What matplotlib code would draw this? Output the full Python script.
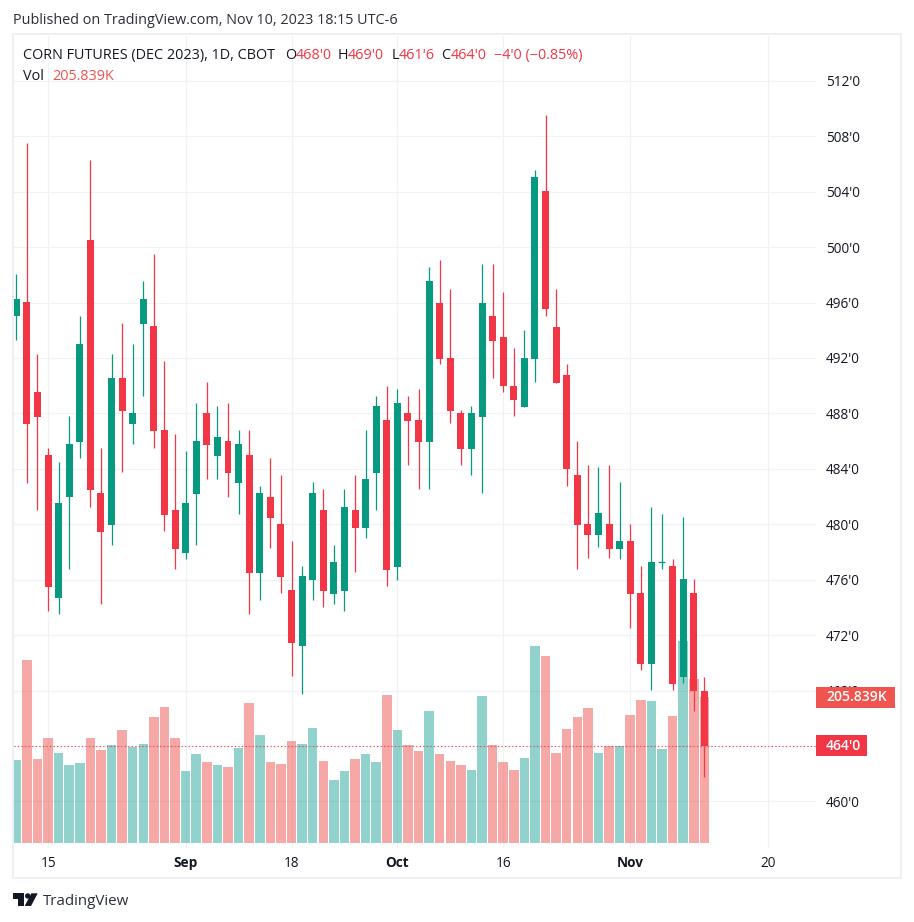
import matplotlib
matplotlib.use("Agg")
import matplotlib.pyplot as plt
from matplotlib.patches import Rectangle, Polygon, Circle
from matplotlib.transforms import IdentityTransform

opens = [495.0,496.05,489.55,485.0,474.7,482,485.9,500.5,482.25,479.95,490.55,487.25,494.45,494.3,486.8,481,477.9,482.2,488,484.9,486,483,485,476.5,482,480,475.25,471.25,476,481,475,475.2,481,479.75,483.7,487.5,476.9,488,487.5,485.9,496,492,488,485.4,487.75,495,493.5,490,488.45,491.95,504.05,494.25,490.75,483.55,480.05,479.25,480.05,478.25,478.8,475.05,469.95,477.25,477,469,475.05,468]
highs = [498.05,507.5,492.25,485.5,484.5,487.8,495,506.3,485.5,492.25,494.5,493,497.55,499.5,491.75,486.5,485.3,488.75,490.25,488.5,488.75,486.8,486.8,482.75,484.75,483.55,478.8,477,483.05,482.55,478.5,482.55,483.55,486.8,489.25,490,489.75,489.25,489.75,498.55,499.05,497,488.25,488.5,498.75,498.75,496.75,492.75,494,505.55,509.55,497,491.55,486,484.3,484.1,484.3,483.05,480,477,481.25,480.75,477.5,480.5,476.05,469]
lows = [493.3,483.0,481.0,473.75,473.5,476.8,484.75,481.25,474.25,478.5,483.75,485.8,489.25,485.5,479.5,476.8,477.5,478.5,483.25,483.25,482,480.75,473.5,474.5,478.3,475.05,469.05,467.75,474.55,474.05,474.25,473.75,476.55,479,481,475.55,476,484.25,482.55,482.55,491.55,487.3,484.25,483.55,482.25,490.55,489.55,487.8,488.45,490.3,495,490.2,482.75,476.8,477.55,478.35,477.55,477.5,472.5,469.5,468.05,476.8,468.05,468.55,466.55,461.75]
closes = [496.25,487.25,487.75,475.45,481.5,485.8,493,482.5,479.45,490.55,488.15,488,496.25,486.7,480.65,478.2,481.5,486,485.7,486.3,483.7,485.8,476.5,482.25,480.45,476.2,471.45,476.25,482.25,475.2,477.3,481.25,479.75,483.25,488.5,476.7,488.75,487.45,485.9,497.55,491.9,488.15,485.4,488,496,493.2,490,489,492,505.05,495.5,490.2,484,479.95,479.25,480.8,478.25,478.8,475,469.95,477.3,477.25,468.5,476.05,468,464]
volumes = [116.8,258.1,118.2,147.9,126.7,109.7,112.6,147.9,130.9,138.0,159.2,135.2,139.4,177.6,191.7,147.9,101.3,125.3,114.0,109.7,106.9,133.8,197.3,152.1,114.0,111.2,143.7,139.4,162.0,115.4,88.5,101.3,118.2,125.3,114.0,208.7,159.2,138.0,129.5,186.0,125.3,115.4,109.7,102.7,207.2,138.0,114.0,102.7,119.6,277.9,263.8,126.7,160.6,177.6,190.3,126.7,136.6,136.6,180.4,201.6,200.2,132.4,179.0,285.0,231.3,205.839]
price_ticks = [460,464,468,472,476,480,484,488,492,496,500,504,508,512]
date_positions = [3,16,26,36,46,58,71]
date_labels = ["15","Sep","18","Oct","16","Nov","20"]
bold_dates = ["Sep","Oct","Nov"]

W, H = 914, 922
UP, DOWN = "#089981", "#F23645"
VUP, VDOWN = "#26a69a", "#ef5350"
GRID = "#f0f2f6"
FRAME = "#eeeff5"
TEXT = "#131722"
FONT = "Open Sans"
FS = 9.8
FS_HEAD = 10.4
plt.rcParams["font.family"] = [FONT, "DejaVu Sans"]

fig = plt.figure(figsize=(W/100, H/100), dpi=100, facecolor="white")
L, R, T, B = 13.5, 816, 36, 848
rect = [L/W, 1-B/H, (R-L)/W, (B-T)/H]
xl = (-0.2645, 75.55)

ax_grid = fig.add_axes(rect, zorder=1)
ax_vol = fig.add_axes(rect, zorder=2, facecolor="none")
ax = fig.add_axes(rect, zorder=3, facecolor="none")

for a in (ax_grid, ax_vol, ax):
    a.set_xlim(*xl)
    for s in a.spines.values():
        s.set_visible(False)

ylim = (456.64, 515.23)
ax_grid.set_ylim(*ylim)
ax.set_ylim(*ylim)
ax_vol.set_ylim(-7.07, 1140)
ax_vol.set_xticks([]); ax_vol.set_yticks([])
ax.set_xticks([]); ax.set_yticks([])

ax_grid.yaxis.tick_right()
ax_grid.set_yticks(price_ticks)
# the last-price tag sits exactly on the 464 tick, so that label never shows
ax_grid.set_yticklabels(["" if v == closes[-1] else f"{v}'0" for v in price_ticks],
                        fontsize=FS, color=TEXT)
ax_grid.set_xticks(date_positions)
ax_grid.set_xticklabels(date_labels, fontsize=FS, color=TEXT)
for lab in ax_grid.get_xticklabels():
    if lab.get_text() in bold_dates:
        lab.set_fontweight("bold")
ax_grid.tick_params(axis="both", length=0)
ax_grid.tick_params(axis="y", pad=7)
ax_grid.tick_params(axis="x", pad=6)
ax_grid.grid(True, color=GRID, lw=0.9)
ax_grid.set_axisbelow(True)

xs = list(range(len(opens)))
is_up = [c >= o for o, c in zip(opens, closes)]

ax_vol.bar(xs, volumes, width=0.9, linewidth=0,
           color=[VUP if u else VDOWN for u in is_up], alpha=0.5)

cols = [UP if u else DOWN for u in is_up]
ax.vlines(xs, lows, highs, colors=cols, linewidth=0.9)
ax.bar(xs, [abs(c-o) for o, c in zip(opens, closes)],
       bottom=[min(o, c) for o, c in zip(opens, closes)],
       width=0.66, color=cols, linewidth=0)
for x, o, c, col in zip(xs, opens, closes, cols):
    if o == c:
        ax.hlines(o, x-0.33, x+0.33, colors=col, linewidth=0.9)
ax.axhline(closes[-1], color=DOWN, lw=0.8, ls=(0, (1, 2.2)))


def px(x, y):
    return x/W, 1-y/H


def label(x, y, s, color=TEXT, size=FS_HEAD, **kw):
    fig.text(*px(x, y), s, color=color, fontsize=size, va="center", ha=kw.pop("ha", "left"), **kw)


def tag(axis, value, s, color, width):
    fig.canvas.draw()
    yd = axis.transData.transform((0, value))[1]
    fig.add_artist(Rectangle((R, yd-10.5), width, 21, transform=IdentityTransform(),
                             facecolor=color, edgecolor="none", zorder=10))
    fig.text(R+10, yd, s, transform=IdentityTransform(), color="white", fontsize=FS+0.3,
             fontweight="semibold", va="center", ha="left", zorder=11)


tag(ax_vol, volumes[-1], "205.839K", "#F0544F", 79)
tag(ax, closes[-1], "464'0", DOWN, 51)

# Frame
for (x0, y0, w, h) in [(12, 33, 890, 2), (12, 877, 890, 2), (12, 33, 2, 846), (900, 33, 2, 846)]:
    fig.add_artist(Rectangle(px(x0, y0+h), w/W, h/H, transform=fig.transFigure,
                             facecolor=FRAME, edgecolor="none", zorder=5))

label(13, 20, "Published on TradingView.com, Nov 10, 2023 18:15 UTC-6", color="#2a2e39")
label(23, 55.5, "CORN FUTURES (DEC 2023), 1D, CBOT")
label(23, 76.5, "Vol")
label(52.5, 76.5, "205.839K", color="#ef5350")
for x, s, c in [(285, "O", TEXT), (296, "468'0", DOWN), (338, "H", TEXT), (348, "469'0", DOWN),
                (392, "L", TEXT), (399, "461'6", DOWN), (441, "C", TEXT), (451, "464'0", DOWN),
                (494, "\u22124'0 (\u22120.85%)", DOWN)]:
    label(x, 55.5, s, color=c)

# Logo
logo = "#131722"
def logo_poly(pts):
    fig.add_artist(Polygon([px(12.7+zx/3, 893.3+zy/3) for zx, zy in pts], closed=True,
                           transform=fig.transFigure, facecolor=logo, edgecolor="none"))
logo_poly([(0, 0), (34, 0), (34, 38), (17, 38), (17, 17), (0, 17)])
logo_poly([(75, 0), (55, 38), (36, 38), (56, 0)])
dot_x, dot_y = 12.7+45/3, 893.3+8/3
fig.add_artist(Circle((dot_x, H-dot_y), 2.7, transform=IdentityTransform(), facecolor=logo, edgecolor="none"))
label(43, 901, "TradingView", color="#2a2e39", size=10.9)

fig.savefig("out.png", dpi=100)
